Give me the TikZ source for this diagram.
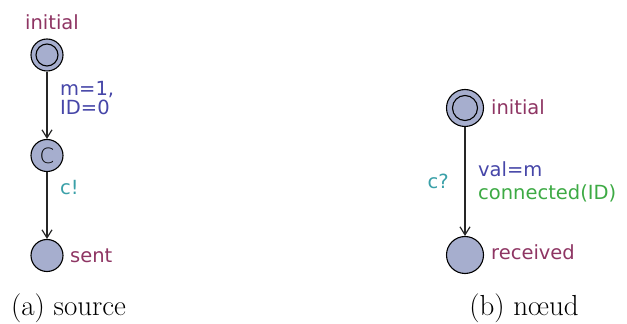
\documentclass[tikz,border=0pt]{standalone}
\usepackage{fontspec}
\newfontfamily\uppfont{DejaVu Sans}
\newfontfamily\uppthin{DejaVu Sans ExtraLight}
\usetikzlibrary{positioning, calc, arrows.meta}

\begin{document}
\begin{tikzpicture}[
  x=1pt, y=1pt,
  font=\uppfont\fontsize{19.5}{17.3}\selectfont,
  >={Straight Barb[length=8pt,width=10pt]},
  loc/.style={circle, draw=black, line width=1.1pt, fill=cLoc,
              inner sep=0pt, minimum size=32pt},
  lbl/.style={inner sep=0pt, anchor=base west},
  edge/.style={->, black!85, line width=1.2pt},
  captext/.style={inner sep=0pt, anchor=base,
              font=\normalfont\fontsize{29}{32}\selectfont},
]
\definecolor{cLoc}{HTML}{A6AECE}   % location fill
\definecolor{cName}{HTML}{8E3563}  % location names
\definecolor{cUpd}{HTML}{4646A8}   % updates
\definecolor{cSync}{HTML}{3AA0A8}  % channels
\definecolor{cGuard}{HTML}{3DAA44} % guards

\useasboundingbox (0,0) rectangle (627,324);

% =====================================================================
% (a) source
% =====================================================================
\node[loc] (srcInit) at (47,269) {};
\draw[line width=1.1pt] (srcInit.center) circle (11pt);
\node[loc, font=\uppthin\fontsize{21}{21}\selectfont] (srcComm) at (47,168.5) {C};
\node[loc] (srcSent) at (47,68.5) {};

\node[lbl, anchor=base, text=cName] (srcInitName) at (52,294) {initial};
\node[lbl, anchor=west, text=cName] (srcSentName) at (70,68.5) {sent};
\node[lbl, text=cUpd] (srcUpdM) at (60,228.5) {m=1,};
\node[lbl, text=cUpd] (srcUpdID) at (60,209.5) {ID=0};
\node[lbl, text=cSync] (srcSync) at (60,129) {c!};

\draw[edge] (srcInit) -- (srcComm);
\draw[edge] (srcComm) -- (srcSent);

\node[captext] (capA) at (68.5,8.5) {(a) source};

% =====================================================================
% (b) noeud
% =====================================================================
\node[loc, minimum size=37pt] (ndInit) at (465,216) {};
\draw[line width=1.1pt] (ndInit.center) circle (12.5pt);
\node[loc, minimum size=37pt] (ndRecv) at (465,69) {};

\node[lbl, text=cName] (ndInitName) at (491,209) {initial};
\node[lbl, text=cName] (ndRecvName) at (491,64) {received};
\node[lbl, text=cUpd] (ndUpd) at (478,147.3) {val=m};
\node[lbl, text=cGuard] (ndGuard) at (478,124.7) {connected(ID)};
\node[lbl, anchor=base east, text=cSync] (ndSync) at (449,135.7) {c?};

\draw[edge] (ndInit) -- (ndRecv);

\node[captext] (capB) at (524,8.5) {(b) nœud};

\end{tikzpicture}
\end{document}
